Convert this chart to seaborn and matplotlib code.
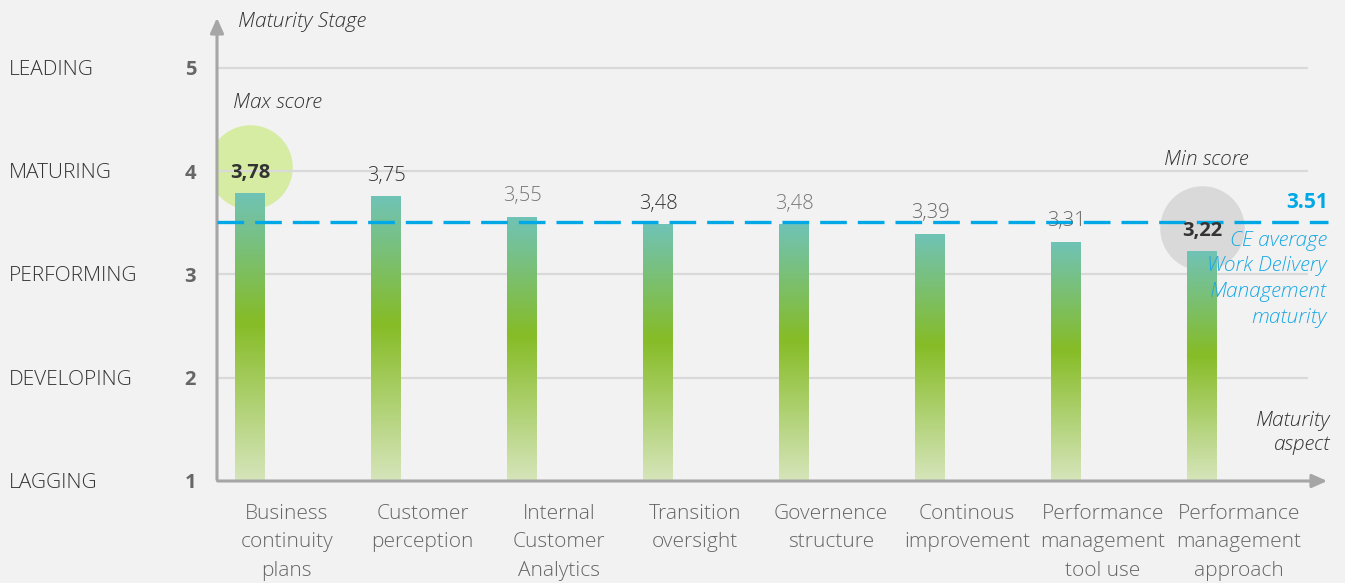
import numpy as np
import pandas as pd
import seaborn as sns
import matplotlib.pyplot as plt
from matplotlib.colors import LinearSegmentedColormap
from matplotlib.transforms import blended_transform_factory

# data
aspects = ['Business\ncontinuity\nplans', 'Customer\nperception', 'Internal\nCustomer\nAnalytics',
           'Transition\noversight', 'Governence\nstructure', 'Continous\nimprovement',
           'Performance\nmanagement\ntool use', 'Performance\nmanagement\napproach']
scores = [3.78, 3.75, 3.55, 3.48, 3.48, 3.39, 3.31, 3.22]
score_labels = ['3,78', '3,75', '3,55', '3,48', '3,48', '3,39', '3,31', '3,22']
stages = ['LAGGING', 'DEVELOPING', 'PERFORMING', 'MATURING', 'LEADING']
stage_values = [1, 2, 3, 4, 5]
ce_average = 3.51
ce_lines = ['CE average', 'Work Delivery', 'Management', 'maturity']

df = pd.DataFrame({'aspect': aspects, 'score': scores})

sns.set_style('white')
plt.rcParams['font.family'] = ['Open Sans', 'DejaVu Sans']
bg = '#f2f2f2'

fig = plt.figure(figsize=(13.45, 5.83), dpi=100, facecolor=bg)
ax = fig.add_axes([217 / 1345, 1 - 481 / 583, 1113 / 1345, 466 / 583])
ax.set_facecolor(bg)

sns.barplot(data=df, x='aspect', y='score', width=0.22, ax=ax, color='#86bc26')

ymin, ymax = 1, 5.51
xmin, xmax = -0.243, 7.94

# gradient fill for each bar
cmap = LinearSegmentedColormap.from_list('bar', [(0, '#d6e5bb'), (0.55, '#86bc26'), (1, '#70c3b6')])
grad = np.linspace(0, 1, 256).reshape(-1, 1)
for p in ax.patches:
    x0, w, top = p.get_x(), p.get_width(), p.get_y() + p.get_height()
    ax.imshow(grad, cmap=cmap, origin='lower', aspect='auto',
              extent=[x0, x0 + w, ymin, top], zorder=3)
    p.set_visible(False)

# grid lines
for v in [2, 3, 4, 5]:
    ax.axhline(v, xmin=0, xmax=0.979, color='#d9d9d9', lw=1.6, zorder=1)

# max / min circles
ax.scatter([0], [4.04], s=3700, color='#d5eca2', zorder=0.5, linewidths=0)
ax.scatter([7], [3.45], s=3700, color='#d9d9d9', zorder=0.5, linewidths=0)

# average line
ax.axhline(ce_average, xmin=0, xmax=0.998, color='#00a8e6', lw=2.4,
           dashes=(8, 3.3), zorder=4)

# value labels
colors = ['#333333', '#333333', '#777777', '#333333', '#777777', '#666666', '#666666', '#333333']
for i, (v, lab) in enumerate(zip(scores, score_labels)):
    bold = i in (0, 7)
    ax.annotate(lab, (i, v), xytext=(0, 8), textcoords='offset points', ha='center',
                va='bottom', fontsize=14.5, color=colors[i],
                fontweight='bold' if bold else 'light', zorder=5)

ax.set_xlim(xmin, xmax)
ax.set_ylim(ymin, ymax)

# axes with arrows
for s in ax.spines.values():
    s.set_visible(False)
ax.annotate('', xy=(0, 1), xytext=(0, -0.003), xycoords='axes fraction',
            arrowprops=dict(arrowstyle='-|>,head_length=0.9,head_width=0.4', color='#a6a6a6', lw=2.2))
ax.annotate('', xy=(1, 0), xytext=(-0.002, 0), xycoords='axes fraction',
            arrowprops=dict(arrowstyle='-|>,head_length=0.9,head_width=0.4', color='#a6a6a6', lw=2.2))

ax.set_yticks(stage_values)
ax.set_yticklabels([str(v) for v in stage_values], fontsize=14.5, fontweight='bold', color='#666666')
ax.tick_params(axis='y', length=0, pad=15)
# category labels sit a little to the right of their bars in the reference
ax.set_xticks(np.arange(len(aspects)) + 0.27)
ax.set_xticklabels(aspects, fontsize=15, color='#666666', linespacing=1.56, fontweight='light')
ax.tick_params(axis='x', length=0, pad=16.5)
ax.set_xlabel('')
ax.set_ylabel('')

# stage names on the left
tr = blended_transform_factory(fig.transFigure, ax.transData)
for v, name in zip(stage_values, stages):
    fig.text(9 / 1345, v - 0.02, name, transform=tr, fontsize=15, color='#333333',
             ha='left', va='center', fontweight='light')

# annotation texts
def px(x, y):
    return x / 1345, 1 - y / 583

fig.text(*px(238, 22), 'Maturity Stage', fontsize=15, style='italic', color='#333333',
         ha='left', va='center', fontweight='light')
fig.text(*px(233, 103), 'Max score', fontsize=15, style='italic', color='#333333',
         ha='left', va='center', fontweight='light')
fig.text(*px(1249, 160), 'Min score', fontsize=15, style='italic', color='#333333',
         ha='right', va='center', fontweight='light')
fig.text(*px(1328, 202), '3.51', fontsize=15, fontweight='bold', color='#00a8e6',
         ha='right', va='center')
for k, line in enumerate(ce_lines):
    fig.text(*px(1327, 241 + 25.5 * k), line, fontsize=15, style='italic', color='#1aa9e3',
             ha='right', va='center', fontweight='light')
fig.text(*px(1330, 433), 'Maturity\naspect', fontsize=15, style='italic', color='#333333',
         ha='right', va='center', multialignment='right', linespacing=1.25, fontweight='light')

fig.savefig('out.png', dpi=100, facecolor=bg)
